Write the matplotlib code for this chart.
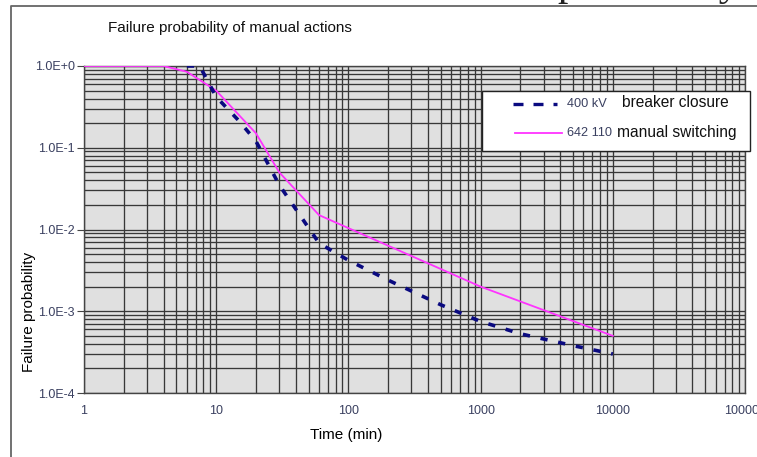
import numpy as np
import matplotlib
matplotlib.use("Agg")
import matplotlib.pyplot as plt
from matplotlib.ticker import LogLocator, FuncFormatter, NullFormatter
from matplotlib.lines import Line2D
from matplotlib.patches import Rectangle

plt.rcParams['font.family'] = ['Liberation Sans', 'DejaVu Sans']

# breaker closure (400 kV)
t_breaker = [6, 7.5, 10, 15, 20, 30, 60, 100, 200, 500, 1000, 2000, 5000, 10000]
p_breaker = [1.0, 1.0, 0.42, 0.21, 0.12, 0.035, 0.0068, 0.0042, 0.0024,
             0.0012, 0.00075, 0.00053, 0.00038, 0.0003]

# manual switching (642 110)
t_manual = [1, 4, 6, 10, 20, 30, 60, 1000, 10000]
p_manual = [1.0, 1.0, 0.85, 0.5, 0.15, 0.05, 0.015, 0.002, 0.0005]

x_ticks = [1, 10, 100, 1000, 10000, 100000]
y_ticks = [1e-4, 1e-3, 1e-2, 1e-1, 1]

fig = plt.figure(figsize=(7.57, 4.57), dpi=100)
ax = fig.add_axes([84/757, 64/457, 661/757, 327/457])
ax.set_facecolor('#e0e0e0')

ax.set_xscale('log')
ax.set_yscale('log')
ax.set_xlim(1, 100000)
ax.set_ylim(1e-4, 1)

ax.xaxis.set_minor_locator(LogLocator(base=10, subs=np.arange(2, 10)))
ax.yaxis.set_minor_locator(LogLocator(base=10, subs=np.arange(2, 10)))
ax.set_xticks(x_ticks)
ax.set_yticks(y_ticks)
ax.xaxis.set_major_formatter(FuncFormatter(lambda v, p: f"{v:.0f}"))
ax.yaxis.set_major_formatter(FuncFormatter(lambda v, p: f"1.0E{int(round(np.log10(v))):+d}"))
ax.xaxis.set_minor_formatter(NullFormatter())
ax.yaxis.set_minor_formatter(NullFormatter())

ax.grid(True, which='both', color='#383838', linewidth=0.95)
ax.set_axisbelow(True)
ax.tick_params(which='minor', length=0)
ax.tick_params(axis='y', which='major', length=5, labelsize=9, colors='#444',
               labelcolor='#3a4060', pad=1.5)
ax.tick_params(axis='x', which='major', length=0, labelsize=9,
               labelcolor='#3a4060', pad=9)
for s in ax.spines.values():
    s.set_color('#444444')
    s.set_linewidth(1)

ax.plot(t_manual, p_manual, color='#ff33ff', linewidth=1.3, zorder=3)
ax.plot(t_breaker, p_breaker, color='#0a0a80', linewidth=2.6,
        linestyle=(0, (2, 3)), zorder=4)

ax.set_xlabel('Time (min)', fontsize=11)
ax.xaxis.set_label_coords(0.396, -0.107)
ax.set_ylabel('Failure probability', fontsize=11)
ax.yaxis.set_label_coords(-0.072, 0.248)

# legend box drawn by hand (two-part labels)
ax.add_patch(Rectangle((0.602, 0.740), 0.4056, 0.1835, transform=ax.transAxes,
                       facecolor='white', edgecolor='#222222', linewidth=1,
                       clip_on=False, zorder=10))
ax.add_line(Line2D([0.649, 0.716], [0.884, 0.884], transform=ax.transAxes,
                   color='#0a0a80', linewidth=2.4, linestyle=(0, (3, 3)),
                   clip_on=False, zorder=11))
ax.add_line(Line2D([0.652, 0.723], [0.795, 0.795], transform=ax.transAxes,
                   color='#ff33ff', linewidth=1.3, clip_on=False, zorder=11))
ax.text(0.730, 0.884, '400 kV', transform=ax.transAxes, fontsize=9.2,
        color='#3a4060', va='center', zorder=12)
ax.text(0.730, 0.795, '642 110', transform=ax.transAxes, fontsize=9.2,
        color='#3a4060', va='center', zorder=12)
ax.text(0.814, 0.887, 'breaker closure', transform=ax.transAxes, fontsize=11.2,
        color='#111111', va='center', zorder=12)
ax.text(0.806, 0.798, 'manual switching', transform=ax.transAxes, fontsize=11.2,
        color='#111111', va='center', zorder=12)

fig.text(108/757, 1 - 28/457, 'Failure probability of manual actions',
         fontsize=11, va='center', ha='left', color='#111111')

# page frame and cut-off caption above
fig.add_artist(Line2D([11/757, 11/757, 757/757], [0, 1 - 6/457, 1 - 6/457],
                      transform=fig.transFigure, color='#666666', linewidth=1.3))
fig.text(740/757, 1 + 5/457, 'probability', fontsize=30, ha='right',
         va='baseline', family='Liberation Serif', color='#222222')

fig.savefig('out.png', dpi=100)
